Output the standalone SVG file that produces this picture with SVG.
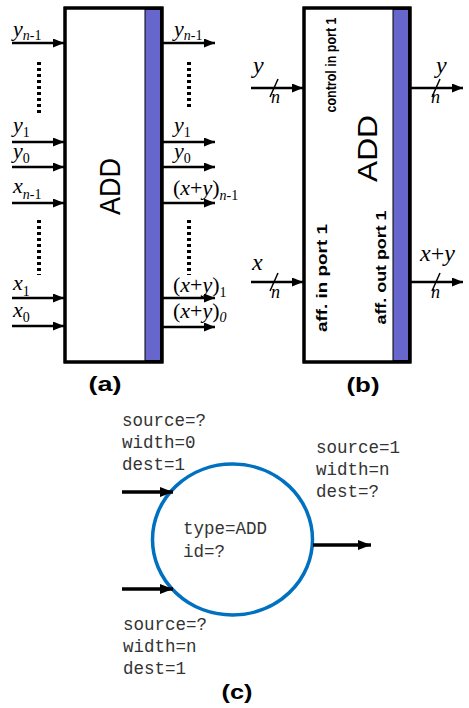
<svg xmlns="http://www.w3.org/2000/svg" width="469" height="708" viewBox="0 0 469 708">
<style>
.box{fill:#fff;stroke:#000;stroke-width:3}
.bar{fill:#6666cc;stroke:#000;stroke-width:1}
.ar{stroke:#000;stroke-width:2.5;fill:none;marker-end:url(#ah)}
.ar2{stroke:#000;stroke-width:3.5;fill:none;marker-end:url(#ah2)}
.dots{stroke:#000;stroke-width:4;stroke-dasharray:3 3;fill:none}
.sl{stroke:#000;stroke-width:1.5}
.lab{font-family:"Liberation Serif","Times New Roman",serif;font-size:22px}
.it{font-style:italic}
.sub{font-size:14px}
.big{font-family:"Liberation Sans",Arial,sans-serif;fill:#000}
.cap{font-family:"Liberation Sans",Arial,sans-serif;font-weight:bold;font-size:21px}
.rot{font-family:"Liberation Sans",Arial,sans-serif;font-weight:bold;font-size:14px}
.mono{font-family:"Liberation Mono","Courier New",monospace;font-size:17.5px;fill:#333}
</style>
<defs>
<marker id="ah" markerWidth="11" markerHeight="9" refX="11" refY="4.5" orient="auto" markerUnits="userSpaceOnUse"><path d="M0,0 L11,4.5 L0,9 z" fill="#000"/></marker>
<marker id="ah2" markerWidth="13" markerHeight="10" refX="13" refY="5" orient="auto" markerUnits="userSpaceOnUse"><path d="M0,0 L13,5 L0,10 z" fill="#000"/></marker>
</defs>
<rect width="469" height="708" fill="#fff"/>

<!-- (a) -->
<g id="nodeA">
<rect class="box" x="65" y="8" width="97" height="354"/>
<rect class="bar" x="145" y="9.5" width="15.5" height="351"/>
<rect x="65" y="8" width="97" height="354" fill="none" stroke="#000" stroke-width="3"/>
<text class="big" font-size="30" textLength="57" lengthAdjust="spacingAndGlyphs" text-anchor="middle" transform="translate(120,186.5) rotate(-90)">ADD</text>
</g>
<g id="labelsA" class="lab">
<text x="13" y="36"><tspan class="it">y</tspan><tspan class="sub" dy="4"><tspan class="it">n</tspan>-1</tspan></text>
<text x="13" y="132"><tspan class="it">y</tspan><tspan class="sub" dy="5">1</tspan></text>
<text x="13" y="158"><tspan class="it">y</tspan><tspan class="sub" dy="5">0</tspan></text>
<text x="13" y="193"><tspan class="it">x</tspan><tspan class="sub" dy="6"><tspan class="it">n</tspan>-1</tspan></text>
<text x="13" y="290"><tspan class="it">x</tspan><tspan class="sub" dy="6">1</tspan></text>
<text x="13" y="317"><tspan class="it">x</tspan><tspan class="sub" dy="5">0</tspan></text>
<text x="174" y="36"><tspan class="it">y</tspan><tspan class="sub" dy="4"><tspan class="it">n</tspan>-1</tspan></text>
<text x="174" y="132"><tspan class="it">y</tspan><tspan class="sub" dy="5">1</tspan></text>
<text x="174" y="158"><tspan class="it">y</tspan><tspan class="sub" dy="5">0</tspan></text>
<text x="173" y="195">(<tspan class="it">x</tspan>+<tspan class="it">y</tspan>)<tspan class="sub" dy="5"><tspan class="it">n</tspan>-1</tspan></text>
<text x="173" y="292">(<tspan class="it">x</tspan>+<tspan class="it">y</tspan>)<tspan class="sub" dy="5">1</tspan></text>
<text x="173" y="318">(<tspan class="it">x</tspan>+<tspan class="it">y</tspan>)<tspan class="sub it" dy="4">0</tspan></text>
</g>
<text class="cap" x="105" y="391" text-anchor="middle" textLength="33" lengthAdjust="spacingAndGlyphs">(a)</text>

<!-- (b) -->
<g id="nodeB">
<rect class="box" x="304" y="8" width="106" height="354"/>
<rect class="bar" x="393" y="9.5" width="15.5" height="351"/>
<rect x="304" y="8" width="106" height="354" fill="none" stroke="#000" stroke-width="3"/>
<text class="rot" font-size="13" textLength="95" lengthAdjust="spacingAndGlyphs" text-anchor="middle" transform="translate(336,65) rotate(-90)">control in port 1</text>
<text class="big" font-size="27" textLength="67" lengthAdjust="spacingAndGlyphs" text-anchor="middle" transform="translate(377,148.5) rotate(-90)">ADD</text>
<text class="rot" textLength="108" lengthAdjust="spacingAndGlyphs" text-anchor="middle" transform="translate(327,278) rotate(-90)">aff. in port 1</text>
<text class="rot" textLength="114" lengthAdjust="spacingAndGlyphs" text-anchor="middle" transform="translate(386,267.5) rotate(-90)">aff. out port 1</text>
</g>
<g id="labelsB" class="lab" font-size="24">
<text x="253" y="73" class="it" font-size="24">y</text>
<text x="271" y="103" class="it" font-size="18">n</text>
<text x="436" y="73" class="it" font-size="24">y</text>
<text x="431" y="103" class="it" font-size="18">n</text>
<text x="252" y="270" class="it" font-size="24">x</text>
<text x="271" y="298" class="it" font-size="18">n</text>
<text x="420" y="261" font-size="24"><tspan class="it">x</tspan>+<tspan class="it">y</tspan></text>
<text x="431" y="298" class="it" font-size="18">n</text>
</g>
<text class="cap" x="363" y="392" text-anchor="middle" textLength="33" lengthAdjust="spacingAndGlyphs">(b)</text>

<!-- (c) -->
<g id="nodeC">
<ellipse cx="232.5" cy="539.5" rx="80" ry="75.5" fill="none" stroke="#0070c0" stroke-width="3.5"/>
<text class="mono" x="183" y="534" font-size="20">type=ADD</text>
<text class="mono" x="183" y="557" font-size="20">id=?</text>
</g>
<g id="labelsC" class="mono">
<text x="122" y="426">source=?</text>
<text x="122" y="448">width=0</text>
<text x="122" y="470">dest=1</text>
<text x="316" y="453">source=1</text>
<text x="316" y="475">width=n</text>
<text x="316" y="497">dest=?</text>
<text x="123" y="630">source=?</text>
<text x="123" y="652">width=n</text>
<text x="123" y="674">dest=1</text>
</g>
<text class="cap" x="237" y="699" text-anchor="middle" textLength="31" lengthAdjust="spacingAndGlyphs">(c)</text>

<!-- connectors -->
<g id="connectors">
<line class="ar" x1="12" y1="43" x2="64" y2="43"/>
<line class="ar" x1="12" y1="142" x2="64" y2="142"/>
<line class="ar" x1="12" y1="167" x2="64" y2="167"/>
<line class="ar" x1="12" y1="203" x2="64" y2="203"/>
<line class="ar" x1="12" y1="298" x2="64" y2="298"/>
<line class="ar" x1="12" y1="326" x2="64" y2="326"/>
<line class="ar" x1="163" y1="43" x2="215" y2="43"/>
<line class="ar" x1="163" y1="142" x2="215" y2="142"/>
<line class="ar" x1="163" y1="167" x2="215" y2="167"/>
<line class="ar" x1="163" y1="203" x2="215" y2="203"/>
<line class="ar" x1="163" y1="298" x2="215" y2="298"/>
<line class="ar" x1="163" y1="327" x2="215" y2="327"/>
<line class="dots" x1="39" y1="62" x2="39" y2="114"/>
<line class="dots" x1="39" y1="220" x2="39" y2="275"/>
<line class="dots" x1="189" y1="62" x2="189" y2="108"/>
<line class="dots" x1="189" y1="220" x2="189" y2="275"/>
<line class="ar" x1="251" y1="88" x2="303" y2="88"/>
<line class="ar" x1="411" y1="88" x2="463" y2="88"/>
<line class="ar" x1="251" y1="282" x2="303" y2="282"/>
<line class="ar" x1="411" y1="282" x2="463" y2="282"/>
<line class="sl" x1="270" y1="97" x2="278" y2="79"/>
<line class="sl" x1="432" y1="97" x2="440" y2="79"/>
<line class="sl" x1="270" y1="291" x2="278" y2="273"/>
<line class="sl" x1="432" y1="291" x2="440" y2="273"/>
<line class="ar2" x1="122" y1="492" x2="173" y2="492"/>
<line class="ar2" x1="122" y1="589" x2="173" y2="589"/>
<line class="ar2" x1="313" y1="545" x2="371" y2="545"/>
</g>
</svg>
